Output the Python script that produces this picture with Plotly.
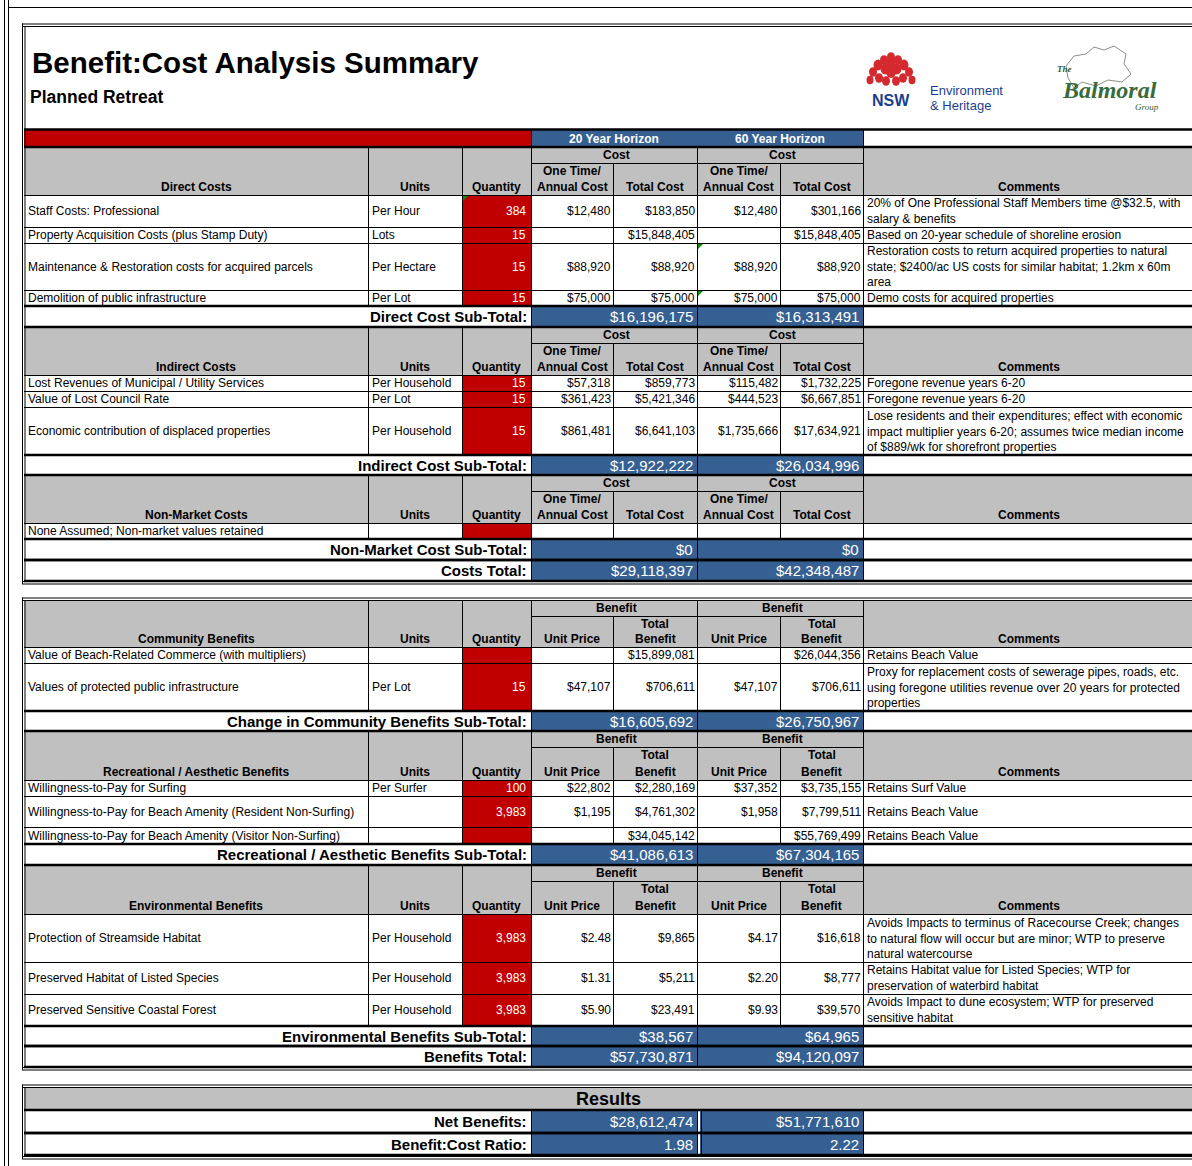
import plotly.graph_objects as go

# ------------------------------------------------------------------ data
title = "Benefit:Cost Analysis Summary"
subtitle = "Planned Retreat"
horizons = ["20 Year Horizon", "60 Year Horizon"]

direct_items = ["Staff Costs: Professional",
                "Property Acquisition Costs (plus Stamp Duty)",
                "Maintenance & Restoration costs for acquired parcels",
                "Demolition of public infrastructure"]
direct_units = ["Per Hour", "Lots", "Per Hectare", "Per Lot"]
direct_qty = [384, 15, 15, 15]
direct_20_unit = [12480, None, 88920, 75000]
direct_20_total = [183850, 15848405, 88920, 75000]
direct_60_unit = [12480, None, 88920, 75000]
direct_60_total = [301166, 15848405, 88920, 75000]
direct_comments = ["20% of One Professional Staff Members time @$32.5, with<br>salary & benefits",
                   "Based on 20-year schedule of shoreline erosion",
                   "Restoration costs to return acquired properties to natural<br>state; $2400/ac US costs for similar habitat; 1.2km x 60m<br>area",
                   "Demo costs for acquired properties"]
direct_subtotal = [16196175, 16313491]

indirect_items = ["Lost Revenues of Municipal / Utility Services",
                  "Value of Lost Council Rate",
                  "Economic contribution of displaced properties"]
indirect_units = ["Per Household", "Per Lot", "Per Household"]
indirect_qty = [15, 15, 15]
indirect_20_unit = [57318, 361423, 861481]
indirect_20_total = [859773, 5421346, 6641103]
indirect_60_unit = [115482, 444523, 1735666]
indirect_60_total = [1732225, 6667851, 17634921]
indirect_comments = ["Foregone revenue years 6-20",
                     "Foregone revenue years 6-20",
                     "Lose residents and their expenditures; effect with economic<br>impact multiplier years 6-20; assumes twice median income<br>of $889/wk for shorefront properties"]
indirect_subtotal = [12922222, 26034996]

nonmarket_items = ["None Assumed; Non-market values retained"]
nonmarket_units = [""]
nonmarket_qty = [None]
nonmarket_20_unit = [None]
nonmarket_20_total = [None]
nonmarket_60_unit = [None]
nonmarket_60_total = [None]
nonmarket_comments = [""]
nonmarket_subtotal = [0, 0]
costs_total = [29118397, 42348487]

community_items = ["Value of Beach-Related Commerce (with multipliers)",
                   "Values of protected public infrastructure"]
community_units = ["", "Per Lot"]
community_qty = [None, 15]
community_20_unit = [None, 47107]
community_20_total = [15899081, 706611]
community_60_unit = [None, 47107]
community_60_total = [26044356, 706611]
community_comments = ["Retains Beach Value",
                      "Proxy for replacement costs of sewerage pipes, roads, etc.<br>using foregone utilities revenue over 20 years for protected<br>properties"]
community_subtotal = [16605692, 26750967]

rec_items = ["Willingness-to-Pay for Surfing",
             "Willingness-to-Pay for Beach Amenity (Resident Non-Surfing)",
             "Willingness-to-Pay for Beach Amenity (Visitor Non-Surfing)"]
rec_units = ["Per Surfer", "", ""]
rec_qty = [100, 3983, None]
rec_20_unit = [22802, 1195, None]
rec_20_total = [2280169, 4761302, 34045142]
rec_60_unit = [37352, 1958, None]
rec_60_total = [3735155, 7799511, 55769499]
rec_comments = ["Retains Surf Value", "Retains Beach Value", "Retains Beach Value"]
rec_subtotal = [41086613, 67304165]

env_items = ["Protection of Streamside Habitat",
             "Preserved Habitat of Listed Species",
             "Preserved Sensitive Coastal Forest"]
env_units = ["Per Household", "Per Household", "Per Household"]
env_qty = [3983, 3983, 3983]
env_20_unit = [2.48, 1.31, 5.90]
env_20_total = [9865, 5211, 23491]
env_60_unit = [4.17, 2.20, 9.93]
env_60_total = [16618, 8777, 39570]
env_comments = ["Avoids Impacts to terminus of Racecourse Creek; changes<br>to natural flow will occur but are minor; WTP to preserve<br>natural watercourse",
                "Retains Habitat value for Listed Species; WTP for<br>preservation of waterbird habitat",
                "Avoids Impact to dune ecosystem; WTP for preserved<br>sensitive habitat"]
env_subtotal = [38567, 64965]
benefits_total = [57730871, 94120097]

net_benefits = [28612474, 51771610]
bc_ratio = [1.98, 2.22]

# ------------------------------------------------------------------ layout constants
W, H = 1192, 1166
FONT = "Liberation Sans, Arial, sans-serif"
BLUE = "#376092"
RED = "#C00000"
GRAY = "#C0C0C0"
COL = [24, 368, 462, 531, 613, 697, 780, 863, 1192]
XL, XR = COL[0], COL[-1]

shapes = []
ann = []


def money(v):
    if v is None:
        return ""
    if isinstance(v, float) and not float(v).is_integer():
        return "${:,.2f}".format(v)
    return "${:,}".format(int(v))


def count(v):
    return "" if v is None else "{:,}".format(v)


def rect(x0, y0, x1, y1, fill):
    shapes.append(dict(type="rect", xref="x", yref="y", x0=x0, y0=y0, x1=x1, y1=y1,
                       fillcolor=fill, line=dict(width=0), layer="below"))


def hline(x0, x1, y, w=1, color="black"):
    yy = y + (0.5 if w == 1 else 0)
    shapes.append(dict(type="line", xref="x", yref="y", x0=x0, x1=x1, y0=yy, y1=yy,
                       line=dict(color=color, width=w)))


def vline(x, y0, y1, w=1, color="black"):
    xx = x + (0.5 if w == 1 else 0)
    shapes.append(dict(type="line", xref="x", yref="y", x0=xx, x1=xx, y0=y0, y1=y1,
                       line=dict(color=color, width=w)))


def marker(x, y):
    # small green comment indicator in a cell corner
    shapes.append(dict(type="path", xref="x", yref="y",
                       path="M{0},{1} L{2},{1} L{0},{3} Z".format(x + 1, y + 1, x + 6, y + 6),
                       fillcolor="#128a12", line=dict(width=0)))


def text(x, y, s, size=12, color="black", bold=False, xa="left", ya="middle",
         family=FONT, italic=False):
    ann.append(dict(x=x, y=y, xref="x", yref="y", text=s, showarrow=False,
                    xanchor=xa, yanchor=ya, borderpad=0, align=xa if xa != "center" else "center",
                    font=dict(family=family, size=size, color=color,
                              weight="bold" if bold else "normal",
                              style="italic" if italic else "normal")))


def mid(a, b):
    return (a + b) / 2.0


def section(y, hh, kind, name, items, units, qty, u20, t20, u60, t60, comments, heights):
    rect(XL, y, XR, y + hh, GRAY)
    top_lab = "Cost" if kind == "cost" else "Benefit"
    hline(COL[3], COL[7], y + 16)
    bot = y + hh - 8
    text(mid(COL[0], COL[1]), bot, name, bold=True, xa="center")
    text(mid(COL[1], COL[2]), bot, "Units", bold=True, xa="center")
    text(mid(COL[2], COL[3]), bot, "Quantity", bold=True, xa="center")
    text(mid(COL[7], XR) + 1, bot, "Comments", bold=True, xa="center")
    for a, b in ((COL[3], COL[5]), (COL[5], COL[7])):
        text(mid(a, b) + 2, y + 8, top_lab, bold=True, xa="center")
    for a, b in ((COL[3], COL[4]), (COL[5], COL[6])):
        if kind == "cost":
            text(mid(a, b), y + 24, "One Time/", bold=True, xa="center")
            text(mid(a, b), bot, "Annual Cost", bold=True, xa="center")
        else:
            text(mid(a, b), bot, "Unit Price", bold=True, xa="center")
    for a, b in ((COL[4], COL[5]), (COL[6], COL[7])):
        if kind == "cost":
            text(mid(a, b), bot, "Total Cost", bold=True, xa="center")
        else:
            text(mid(a, b), y + 24, "Total", bold=True, xa="center")
            text(mid(a, b), bot, "Benefit", bold=True, xa="center")
    for c in (COL[1], COL[2], COL[3], COL[5], COL[7]):
        vline(c, y, y + hh)
    for c in (COL[4], COL[6]):
        vline(c, y + 16, y + hh)
    y += hh
    hline(XL, XR, y)
    starts = []
    for i, h in enumerate(heights):
        starts.append(y)
        cy = y + h / 2.0
        rect(COL[2], y, COL[3], y + h, RED)
        text(COL[0] + 3, cy, items[i])
        text(COL[1] + 3, cy, units[i])
        text(COL[3] - 4, cy, count(qty[i]), color="white", xa="right")
        vals = [u20[i], t20[i], u60[i], t60[i]]
        for k, v in enumerate(vals):
            text(COL[4 + k] - 1, cy, money(v), xa="right")
        text(COL[7] + 3, cy, comments[i], xa="left")
        for c in COL[1:8]:
            vline(c, y, y + h)
        y += h
        hline(XL, XR, y)
    return y, starts


def subtotal(y, h, label, vals, fmt=money, fill_gap=False):
    rect(COL[3], y, COL[5], y + h, BLUE)
    rect(COL[5], y, COL[7], y + h, BLUE)
    cy = y + h / 2.0
    text(COL[3] - 3, cy, label, size=15, bold=True, xa="right")
    text(COL[5] - 3, cy, fmt(vals[0]), size=15, color="white", xa="right")
    text(COL[7] - 3, cy, fmt(vals[1]), size=15, color="white", xa="right")
    for c in (COL[3], COL[5], COL[7]):
        vline(c, y, y + h)
    if fill_gap:
        vline(COL[5] + 2, y, y + h, w=2, color="white")
        vline(COL[5] + 4, y, y + h)
    hline(XL, XR, y, 2.5)
    hline(XL, XR, y + h, 2.5)
    return y + h


def table_frame(y0, y1):
    hline(XL - 2, XR, y0 - 0.5)
    hline(XL - 2, XR, y0 + 2)
    hline(XL - 2, XR, y1 - 1)
    hline(XL - 2, XR, y1 + 1.5)
    vline(XL - 2, y0 - 0.5, y1 + 2)
    vline(XL + 0.5, y0 + 2, y1)


# ------------------------------------------------------------------ page frame
vline(4, 0, H)
vline(8, 0, H)
hline(8, W, 7)

# ------------------------------------------------------------------ table 1 (costs)
T1_TOP = 24
table_frame(T1_TOP, 582)
text(31, 62, title, size=29.5, bold=True)
text(29, 97, subtitle, size=17.5, bold=True)

# logos (decorative)
petals = [(891, 57, 4), (884, 60, 4), (898, 60, 4), (878, 65, 4.5), (891, 63, 4.5), (904, 65, 4.5),
          (885, 69, 4.5), (897, 69, 4.5), (873, 72, 4), (909, 72, 4), (891, 72, 5),
          (879, 78, 4), (903, 78, 4), (870, 80, 3.5), (912, 80, 3.5), (886, 81, 4), (896, 81, 4)]
for (px, py, r) in petals:
    shapes.append(dict(type="circle", xref="x", yref="y", x0=px - r, x1=px + r, y0=py - r * 1.2, y1=py + r * 1.2,
                       fillcolor="#d42a2f", line=dict(width=0)))
text(891, 100, "NSW", size=16, bold=True, color="#1d3f8f", xa="center")
text(929, 90, "Environment", size=13, color="#1d3f8f")
text(929, 105, "&amp; Heritage", size=13, color="#1d3f8f")
shapes.append(dict(type="path", xref="x", yref="y",
                   path="M1066,66 L1074,56 L1086,54 L1094,47 L1104,50 L1114,46 L1126,54 L1124,64 L1131,74 "
                        "L1122,82 L1108,80 L1096,86 L1082,82 L1074,88 L1068,78 Z",
                   line=dict(color="#8a8f8a", width=1), fillcolor="rgba(0,0,0,0)"))
text(1056, 69, "The", size=9, color="#2f5a2f", italic=True, family="Liberation Serif, serif", bold=True)
text(1109, 90, "Balmoral", size=24, color="#3a6b3a", italic=True, bold=True,
     family="Liberation Serif, serif", xa="center")
text(1134, 107, "Group", size=9, color="#2f5a2f", italic=True, family="Liberation Serif, serif")

# horizon band
rect(XL, 130, COL[3], 147, RED)
rect(COL[3], 130, COL[7], 147, BLUE)
text(mid(COL[3], COL[5]), 138.5, horizons[0], bold=True, color="white", xa="center")
text(mid(COL[5], COL[7]), 138.5, horizons[1], bold=True, color="white", xa="center")
vline(COL[3], 130, 147)
vline(COL[7], 130, 147)
hline(XL, XR, 129.5, 2.5)
hline(XL, XR, 147, 2.5)

y = 147
y, direct_rows = section(y, 48, "cost", "Direct Costs", direct_items, direct_units, direct_qty,
                         direct_20_unit, direct_20_total, direct_60_unit, direct_60_total,
                         direct_comments, [32, 16, 47, 16])
marker(COL[2], direct_rows[0])
marker(COL[5], direct_rows[2])
marker(COL[5], direct_rows[3])
y = subtotal(y, 21, "Direct Cost Sub-Total:", direct_subtotal)
y, _ = section(y, 48, "cost", "Indirect Costs", indirect_items, indirect_units, indirect_qty,
               indirect_20_unit, indirect_20_total, indirect_60_unit, indirect_60_total,
               indirect_comments, [16, 16, 48])
y = subtotal(y, 20, "Indirect Cost Sub-Total:", indirect_subtotal)
y, _ = section(y, 48, "cost", "Non-Market Costs", nonmarket_items, nonmarket_units, nonmarket_qty,
               nonmarket_20_unit, nonmarket_20_total, nonmarket_60_unit, nonmarket_60_total,
               nonmarket_comments, [16])
y = subtotal(y, 21, "Non-Market Cost Sub-Total:", nonmarket_subtotal)
y = subtotal(y, 21, "Costs Total:", costs_total)

# ------------------------------------------------------------------ table 2 (benefits)
T2_TOP = 598
table_frame(T2_TOP, 1068)
y = T2_TOP + 2
y, _ = section(y, 47, "benefit", "Community Benefits", community_items, community_units, community_qty,
               community_20_unit, community_20_total, community_60_unit, community_60_total,
               community_comments, [16, 48])
y = subtotal(y, 20, "Change in Community Benefits Sub-Total:", community_subtotal)
y, _ = section(y, 49, "benefit", "Recreational / Aesthetic Benefits", rec_items, rec_units, rec_qty,
               rec_20_unit, rec_20_total, rec_60_unit, rec_60_total, rec_comments, [16, 31, 17])
y = subtotal(y, 21, "Recreational / Aesthetic Benefits Sub-Total:", rec_subtotal)
y, _ = section(y, 49, "benefit", "Environmental Benefits", env_items, env_units, env_qty,
               env_20_unit, env_20_total, env_60_unit, env_60_total, env_comments, [48, 32, 32])
y = subtotal(y, 20, "Environmental Benefits Sub-Total:", env_subtotal)
y = subtotal(y, 21, "Benefits Total:", benefits_total)

# ------------------------------------------------------------------ table 3 (results)
T3_TOP = 1085
table_frame(T3_TOP, 1157)
rect(XL, T3_TOP + 2, XR, 1110, GRAY)
text(mid(XL, XR), 1099, "Results", size=18, bold=True, xa="center")
y = 1110
y = subtotal(y, 23, "Net Benefits:", net_benefits, fill_gap=True)
y = subtotal(y, 22, "Benefit:Cost Ratio:", bc_ratio, fmt=lambda v: "{:.2f}".format(v), fill_gap=True)

# ------------------------------------------------------------------ figure
fig = go.Figure(go.Scatter(x=[], y=[], mode="markers", showlegend=False, hoverinfo="skip"))
fig.update_layout(
    width=W, height=H, autosize=False,
    margin=dict(l=0, r=0, t=0, b=0, pad=0),
    paper_bgcolor="white", plot_bgcolor="white",
    xaxis=dict(range=[0, W], visible=False, fixedrange=True),
    yaxis=dict(range=[H, 0], visible=False, fixedrange=True),
    shapes=shapes, annotations=ann, showlegend=False,
    font=dict(family=FONT),
)
fig.write_html("out.html", config={"displayModeBar": False, "staticPlot": True},
               post_script="document.body.style.margin='0';document.body.style.overflow='hidden';")
